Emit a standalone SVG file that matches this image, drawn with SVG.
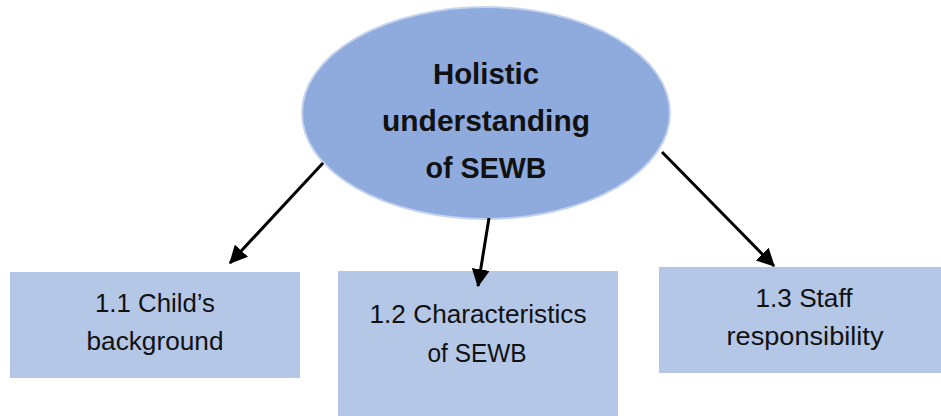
<svg xmlns="http://www.w3.org/2000/svg" width="941" height="416" viewBox="0 0 941 416">
<style>
.box{fill:#b4c7e7;}
.t{font-family:"Liberation Sans",Arial,sans-serif;font-size:25px;fill:#111;text-anchor:middle;}
.tb{font-family:"Liberation Sans",Arial,sans-serif;font-size:30px;font-weight:bold;fill:#111;text-anchor:middle;}
.c{stroke:#000;stroke-width:3;fill:none;marker-end:url(#ah);}
</style>
<defs>
<marker id="ah" markerWidth="6" markerHeight="6" refX="5.6" refY="3" orient="auto" markerUnits="strokeWidth">
<path d="M0,0 L6,3 L0,6 Z" fill="#000"/>
</marker>
</defs>
<rect width="941" height="416" fill="#fff"/>
<g id="root">
<ellipse cx="486" cy="113" rx="184" ry="106" fill="#8faadc" stroke="#c5d4ee" stroke-width="2"/>
<text class="tb" x="486" y="84" textLength="106" lengthAdjust="spacingAndGlyphs">Holistic</text>
<text class="tb" x="486" y="131" textLength="208" lengthAdjust="spacingAndGlyphs">understanding</text>
<text class="tb" x="486" y="178" textLength="121" lengthAdjust="spacingAndGlyphs">of SEWB</text>
</g>
<g id="n1">
<rect class="box" x="10" y="272" width="290" height="106"/>
<text class="t" x="155" y="312" textLength="120" lengthAdjust="spacingAndGlyphs">1.1 Child’s</text>
<text class="t" x="155" y="350" textLength="137" lengthAdjust="spacingAndGlyphs">background</text>
</g>
<g id="n2">
<rect class="box" x="338" y="271" width="280" height="145"/>
<text class="t" x="478" y="323" textLength="217" lengthAdjust="spacingAndGlyphs">1.2 Characteristics</text>
<text class="t" x="477" y="362" textLength="99" lengthAdjust="spacingAndGlyphs">of SEWB</text>
</g>
<g id="n3">
<rect class="box" x="659" y="267" width="282" height="106"/>
<text class="t" x="804" y="307" textLength="97" lengthAdjust="spacingAndGlyphs">1.3 Staff</text>
<text class="t" x="805" y="345" textLength="157" lengthAdjust="spacingAndGlyphs">responsibility</text>
</g>
<g id="connectors">
<line class="c" x1="323" y1="163" x2="230" y2="263"/>
<line class="c" x1="489" y1="218" x2="478" y2="286"/>
<line class="c" x1="662" y1="152" x2="774" y2="266"/>
</g>
</svg>
